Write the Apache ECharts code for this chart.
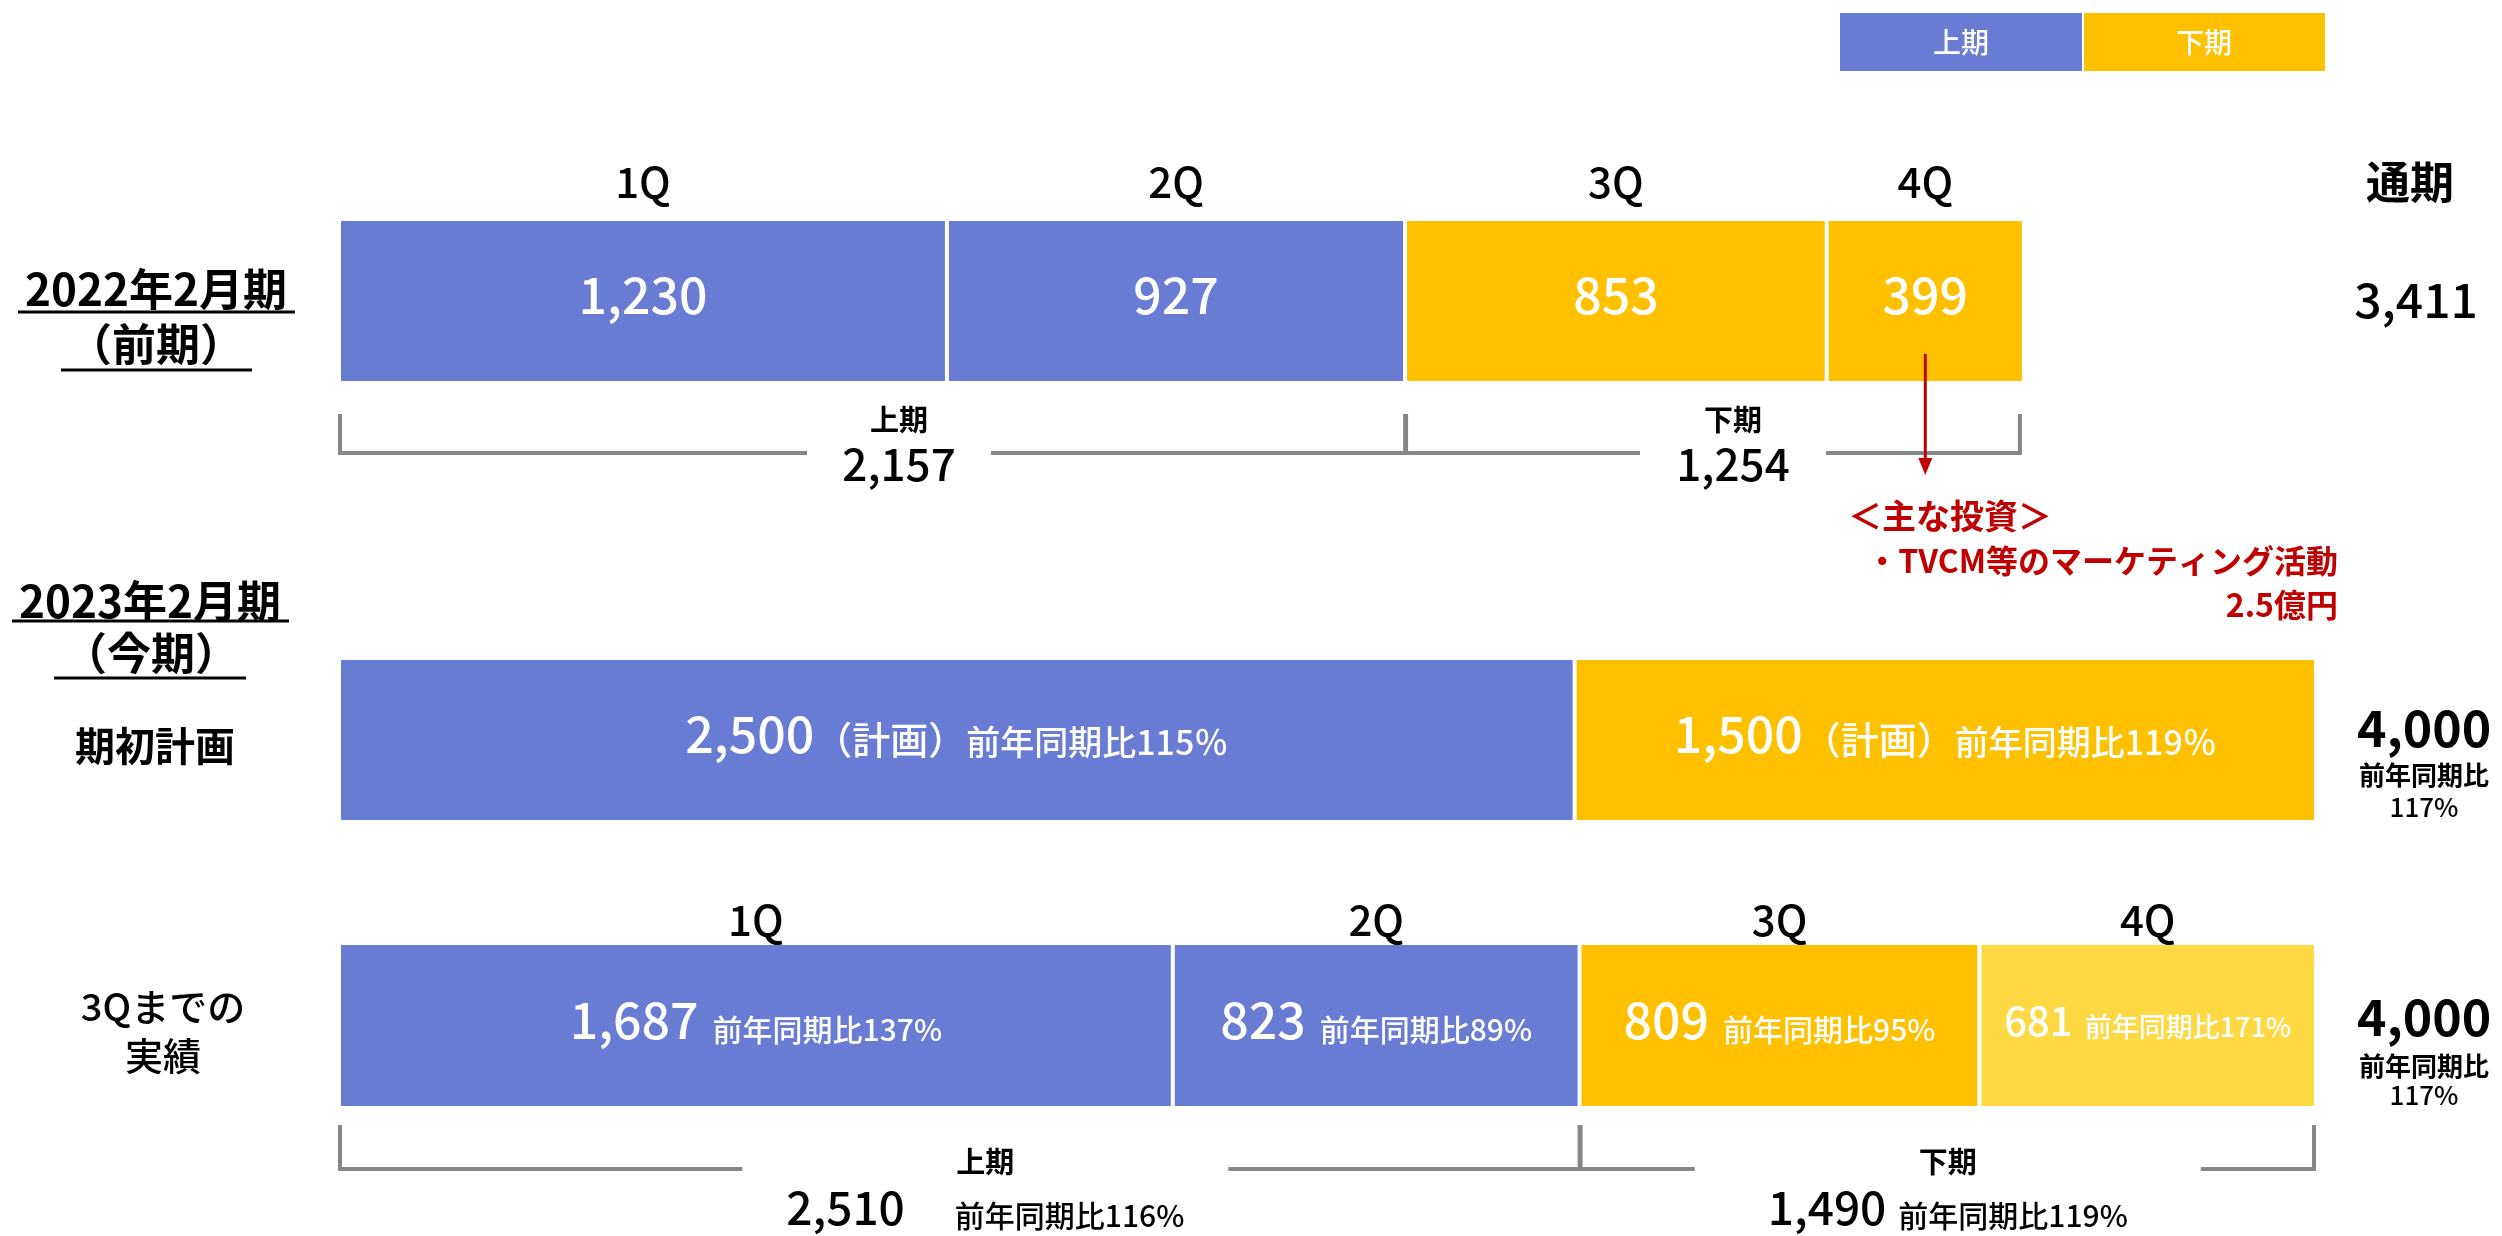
<!DOCTYPE html>
<html><head><meta charset="utf-8">
<script src="https://cdn.jsdelivr.net/npm/echarts@6/dist/echarts.min.js"></script>
<style>html,body{margin:0;padding:0;background:#fff}#c{width:2502px;height:1236px}</style>
</head><body><div id="c"></div>
<script>
// ---------- data ----------
const quarters = ['1Q', '2Q', '3Q', '4Q'];
const halves = ['上期', '下期'];
const prevValues = [1230, 927, 853, 399];        // 2022年2月期（前期）
const prevHalfTotals = [2157, 1254];
const prevFullYear = 3411;
const planValues = [2500, 1500];                 // 期初計画
const planYoY = ['115％', '119％'];
const planFullYear = 4000;
const planFullYoY = '117%';
const actualValues = [1687, 823, 809, 681];      // 3Qまでの実績
const actualYoY = ['137%', '89%', '95%', '171%'];
const actualHalfTotals = [2510, 1490];
const actualHalfYoY = ['116%', '119%'];
const actualFullYear = 4000;
const actualFullYoY = '117%';
const axisMax = 4000;

// ---------- style ----------
const FONT = '"Noto Sans CJK JP", "Noto Sans", sans-serif';
const BLUE = '#687CD4', GOLD = '#FFC000', LIGHT = '#FFD943', RED = '#C00000', GRAY = '#878787';
const MW = 500;
const fmt = v => v.toLocaleString('en-US');
function tok(size, weight, color, extra) {
  return Object.assign({ fontSize: size, fontWeight: weight || MW, fontFamily: FONT,
    color: color || '#fff', lineHeight: Math.round(size * 0.76), verticalAlign: 'bottom' }, extra || {});
}
const barRich = {
  v: tok(50), p: tok(38), y: tok(34),
  y3: tok(30, MW, '#fff', { padding: [0, 0, 0, 14] }),
  vs: tok(40), ys: tok(27, MW, '#fff', { padding: [0, 0, 0, 12] })
};

const rows = [
  { values: prevValues, colors: [BLUE, BLUE, GOLD, GOLD], label: (v, k) => `{v|${fmt(v)}}` },
  { values: planValues, colors: [BLUE, GOLD], label: (v, k) => `{v|${fmt(v)}}{p|（計画）}{y|前年同期比${planYoY[k]}}` },
  { values: actualValues, colors: [BLUE, BLUE, GOLD, LIGHT],
    label: (v, k) => k === 3 ? `{vs|${fmt(v)}}{ys|前年同期比${actualYoY[k]}}` : `{v|${fmt(v)}}{y3|前年同期比${actualYoY[k]}}` }
];

const grids = [
  { left: 339, right: 186, top: 219, height: 164 },
  { left: 339, right: 186, top: 658, height: 164 },
  { left: 339, right: 186, top: 943, height: 165 }
];

const series = [];
rows.forEach((row, r) => {
  row.values.forEach((v, k) => {
    series.push({
      type: 'bar', xAxisIndex: r, yAxisIndex: r, stack: 'row' + r, barWidth: '100%',
      data: [v], silent: true, animation: false,
      itemStyle: { color: row.colors[k], borderColor: '#fff', borderWidth: 2 },
      label: { show: true, position: 'inside', formatter: () => row.label(v, k), rich: barRich }
    });
  });
});

function cumData(values) {
  let s = 0;
  return values.map((v, k) => { const d = [s, s + v, 0, k]; s += v; return d; });
}

function qLabelSeries(r, values, gap, size) {
  return {
    type: 'custom', xAxisIndex: r, yAxisIndex: r, silent: true, animation: false, z: 10,
    encode: { x: [0, 1], y: 2 }, data: cumData(values),
    renderItem: (p, api) => {
      const a = api.coord([api.value(0), 0]), b = api.coord([api.value(1), 0]);
      const h = api.size([0, 1])[1];
      return { type: 'text', x: (a[0] + b[0]) / 2, y: a[1] - h / 2 - gap,
        style: { text: quarters[api.value(3)], font: `${MW} ${size}px ${FONT}`, fill: '#000',
          align: 'center', verticalAlign: 'middle', textAlign: 'center', textVerticalAlign: 'middle' } };
    }
  };
}

function bracketSeries(r, totals, cfg) {
  return {
    type: 'custom', xAxisIndex: r, yAxisIndex: r, silent: true, animation: false, z: 8,
    encode: { x: [0, 1], y: 2 }, data: cumData(totals),
    renderItem: (p, api) => {
      const k = api.value(3);
      const a = api.coord([api.value(0), 0]), b = api.coord([api.value(1), 0]);
      const h = api.size([0, 1])[1];
      const bottom = a[1] + h / 2;
      const x0 = a[0] + 1, x1 = b[0] - (k === totals.length - 1 ? cfg.endInset : 0);
      const yT = bottom + cfg.top, yB = bottom + cfg.base;
      const cx = (a[0] + b[0]) / 2 + cfg.shift[k];
      const g0 = cx - cfg.gapHalf[k], g1 = cx + cfg.gapHalf[k];
      const ls = { stroke: GRAY, lineWidth: 4, fill: null, lineJoin: 'miter' };
      return { type: 'group', children: [
        { type: 'polyline', shape: { points: [[x0, yT], [x0, yB], [g0, yB]] }, style: ls },
        { type: 'polyline', shape: { points: [[g1, yB], [x1, yB], [x1, yT]] }, style: ls },
        { type: 'text', x: cx, y: bottom + cfg.titleY,
          style: { text: halves[k], font: `bold 29px ${FONT}`, fill: '#000', align: 'center', verticalAlign: 'middle', textAlign: 'center', textVerticalAlign: 'middle' } },
        { type: 'text', x: cx, y: bottom + cfg.valueY,
          style: { text: cfg.valueText(k), rich: cfg.rich, align: 'center', verticalAlign: 'middle', textAlign: 'center', textVerticalAlign: 'middle' } }
      ] };
    }
  };
}

series.push(qLabelSeries(0, prevValues, 37, 42));
series.push(qLabelSeries(2, actualValues, 23, 42));

series.push(bracketSeries(0, prevHalfTotals, {
  top: 31, base: 70, gapHalf: [92, 93], shift: [27, 18], titleY: 37, valueY: 87, endInset: 5,
  valueText: k => `{v|${fmt(prevHalfTotals[k])}}`,
  rich: { v: tok(44, MW, '#000') }
}));
series.push(bracketSeries(2, actualHalfTotals, {
  top: 17, base: 61, gapHalf: [243, 253], shift: [26, 0], titleY: 54, valueY: 105, endInset: 2,
  valueText: k => `{v|${fmt(actualHalfTotals[k])}}{y${k}|前年同期比${actualHalfYoY[k]}}`,
  rich: { v: tok(46, MW, '#000'),
    y0: tok(30, MW, '#000', { padding: [0, 0, 0, 50] }),
    y1: tok(30, MW, '#000', { padding: [0, 0, 0, 12] }) }
}));

// arrow from 4Q of previous year to the investment note
series.push({
  type: 'custom', xAxisIndex: 0, yAxisIndex: 0, silent: true, animation: false, z: 20,
  encode: { x: [0, 1], y: 2 }, data: [cumData(prevValues)[3]],
  renderItem: (p, api) => {
    const a = api.coord([api.value(0), 0]), b = api.coord([api.value(1), 0]);
    const h = api.size([0, 1])[1];
    const x = (a[0] + b[0]) / 2, y0 = a[1] + 53, tip = a[1] + h / 2 + 92;
    return { type: 'group', children: [
      { type: 'line', shape: { x1: x, y1: y0, x2: x, y2: tip - 12 }, style: { stroke: RED, lineWidth: 3 } },
      { type: 'polygon', shape: { points: [[x - 7, tip - 17], [x + 7, tip - 17], [x, tip]] }, style: { fill: RED } }
    ] };
  }
});

function txt(x, y, text, font, fill, align) {
  return { type: 'text', x, y, z: 30, silent: true,
    style: { text, font: font + ' ' + FONT, fill: fill || '#000', align: align || 'center', verticalAlign: 'middle',
      textAlign: align || 'center', textVerticalAlign: 'middle' } };
}
function uline(x1, x2, y) {
  return { type: 'line', z: 30, silent: true, shape: { x1, y1: y, x2, y2: y }, style: { stroke: '#000', lineWidth: 3 } };
}

const graphic = [
  // legend
  { type: 'rect', shape: { x: 1840, y: 13, width: 242, height: 58 }, style: { fill: BLUE } },
  { type: 'rect', shape: { x: 2084, y: 13, width: 241, height: 58 }, style: { fill: GOLD } },
  txt(1961, 42, halves[0], MW + ' 28px', '#fff'),
  txt(2204, 42, halves[1], MW + ' 28px', '#fff'),
  // left titles
  txt(156, 289, '2022年2月期', 'bold 44px'), uline(18, 295, 312),
  txt(156, 344, '（前期）', 'bold 44px'), uline(61, 252, 370),
  txt(150, 601, '2023年2月期', 'bold 44px'), uline(12, 289, 621),
  txt(151, 653, '（今期）', 'bold 44px'), uline(54, 246, 678),
  txt(155, 746, '期初計画', 'bold 40px'),
  txt(163, 1007, '3Qまでの', MW + ' 38px'),
  txt(163, 1056, '実績', MW + ' 38px'),
  // right totals
  txt(2410, 182, '通期', 'bold 44px'),
  txt(2416, 300, fmt(prevFullYear), MW + ' 48px'),
  txt(2424, 728, fmt(planFullYear), 'bold 50px'),
  txt(2424, 775, '前年同期比', 'bold 26px'),
  txt(2424, 807, planFullYoY, MW + ' 26px'),
  txt(2424, 1017, fmt(actualFullYear), 'bold 50px'),
  txt(2424, 1066, '前年同期比', 'bold 26px'),
  txt(2424, 1095, actualFullYoY, MW + ' 26px'),
  // investment note
  txt(1848, 516, '＜主な投資＞', 'bold 34px', RED, 'left'),
  txt(2338, 561, '・TVCM等のマーケティング活動', 'bold 32px', RED, 'right'),
  txt(2338, 605, '2.5億円', 'bold 32px', RED, 'right')
];

const chart = echarts.init(document.getElementById('c'));
chart.setOption({
  animation: false,
  backgroundColor: '#fff',
  textStyle: { fontFamily: FONT },
  grid: grids,
  xAxis: grids.map((g, i) => ({ gridIndex: i, type: 'value', min: 0, max: axisMax, show: false })),
  yAxis: grids.map((g, i) => ({ gridIndex: i, type: 'category', data: ['row' + i], show: false })),
  series,
  graphic
});
</script>
</body></html>
